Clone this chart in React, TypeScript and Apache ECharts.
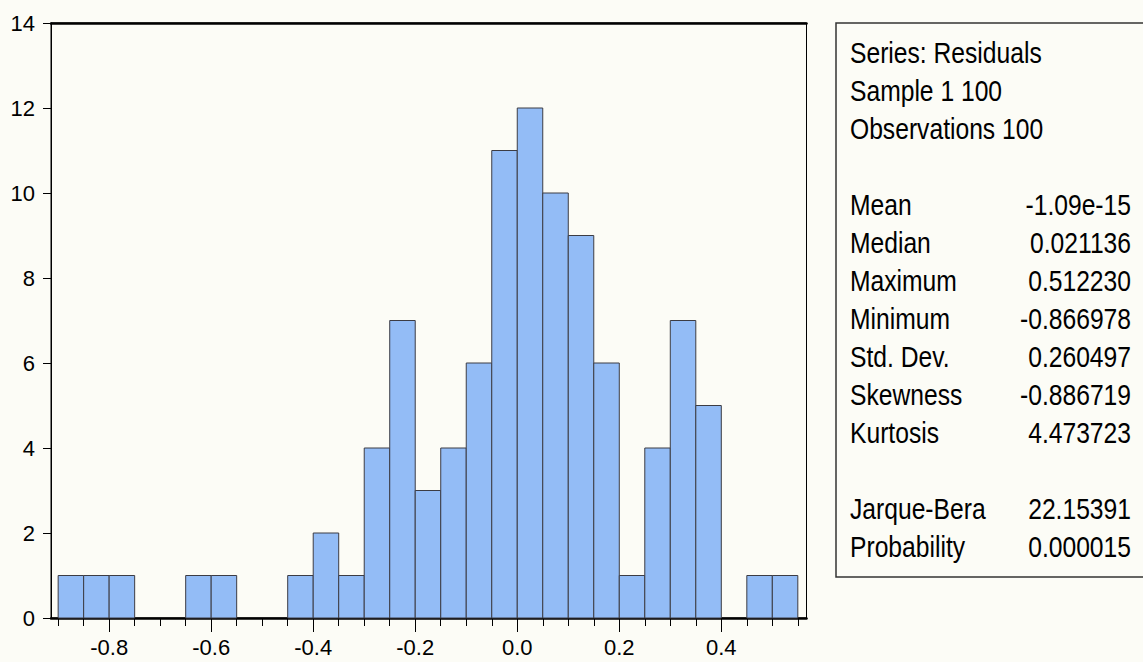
import React, { useEffect, useRef } from "react";
import * as echarts from "echarts";

const binStarts = [
  -0.9, -0.85, -0.8, -0.75, -0.7, -0.65, -0.6, -0.55, -0.5, -0.45, -0.4, -0.35, -0.3, -0.25, -0.2,
  -0.15, -0.1, -0.05, 0.0, 0.05, 0.1, 0.15, 0.2, 0.25, 0.3, 0.35, 0.4, 0.45, 0.5,
];
const binWidth = 0.05;
const counts = [1, 1, 1, 0, 0, 1, 1, 0, 0, 1, 2, 1, 4, 7, 3, 4, 6, 11, 12, 10, 9, 6, 1, 4, 7, 5, 0, 1, 1];

const minorTickValues = [
  -0.9, -0.85, -0.8, -0.75, -0.7, -0.65, -0.6, -0.55, -0.5, -0.45, -0.4, -0.35, -0.3, -0.25, -0.2,
  -0.15, -0.1, -0.05, 0.0, 0.05, 0.1, 0.15, 0.2, 0.25, 0.3, 0.35, 0.4, 0.45, 0.5, 0.55,
];
const majorTickValues = [-0.8, -0.6, -0.4, -0.2, 0.0, 0.2, 0.4];

const headerLines = ["Series: Residuals", "Sample 1 100", "Observations 100"];
const statNames = ["Mean", "Median", "Maximum", "Minimum", "Std. Dev.", "Skewness", "Kurtosis"];
const statValues = ["-1.09e-15", "0.021136", "0.512230", "-0.866978", "0.260497", "-0.886719", "4.473723"];
const testNames = ["Jarque-Bera", "Probability"];
const testValues = ["22.15391", "0.000015"];

const FONT = '"Liberation Sans", Arial, sans-serif';
const BG = "#fcfcf6";

export default function App() {
  const ref = useRef<HTMLDivElement>(null);

  useEffect(() => {
    if (!ref.current) return;
    const chart = echarts.init(ref.current, null, { renderer: "svg" });

    const barData = binStarts
      .map((s, i) => [s, s + binWidth, counts[i]])
      .filter((d) => d[2] > 0);

    const textEls: any[] = [];
    const lx = 850;
    const rx = 1131;
    const step = 38;
    const y0 = 53;
    const sx = 0.85;
    const mk = (text: string, x: number, y: number, align: string) => ({
      type: "text",
      x,
      y,
      scaleX: sx,
      style: { text, x: 0, y: 0, font: `29px ${FONT}`, fill: "#000", textAlign: align, textVerticalAlign: "middle" },
      z: 2,
    });
    headerLines.forEach((t, i) => textEls.push(mk(t, lx, y0 + i * step, "left")));
    statNames.forEach((t, i) => {
      const y = y0 + (4 + i) * step;
      textEls.push(mk(t, lx, y, "left"));
      textEls.push(mk(statValues[i], rx, y, "right"));
    });
    testNames.forEach((t, i) => {
      const y = y0 + (12 + i) * step;
      textEls.push(mk(t, lx, y, "left"));
      textEls.push(mk(testValues[i], rx, y, "right"));
    });

    const xMin = -0.914;
    const xMax = 0.567;

    chart.setOption({
      animation: false,
      backgroundColor: BG,
      grid: {
        left: 51,
        top: 23,
        right: 336.5,
        bottom: 44,
        show: true,
        borderColor: "#000",
        borderWidth: 1,
        backgroundColor: "transparent",
      },
      xAxis: [
        {
          type: "value",
          min: xMin,
          max: xMax,
          position: "bottom",
          axisLine: { show: true, onZero: false, lineStyle: { color: "#000", width: 2.5 } },
          axisTick: { show: true, inside: false, length: 8, customValues: minorTickValues, lineStyle: { color: "#000", width: 1 } },
          axisLabel: { show: false },
          splitLine: { show: false },
        },
        {
          type: "value",
          min: xMin,
          max: xMax,
          position: "bottom",
          axisLine: { show: false, onZero: false },
          axisTick: { show: true, inside: false, length: 14, customValues: majorTickValues, lineStyle: { color: "#000", width: 1 } },
          axisLabel: {
            show: true,
            customValues: majorTickValues,
            formatter: (v: number) => v.toFixed(1),
            fontFamily: FONT,
            fontSize: 22,
            color: "#000",
            margin: 18,
          },
          splitLine: { show: false },
        },
        {
          type: "value",
          min: xMin,
          max: xMax,
          position: "top",
          axisLine: { show: true, onZero: false, lineStyle: { color: "#000", width: 2.5 } },
          axisTick: { show: false },
          axisLabel: { show: false },
          splitLine: { show: false },
        },
      ],
      yAxis: {
        type: "value",
        min: 0,
        max: 14,
        interval: 2,
        axisLine: { show: true, onZero: false, lineStyle: { color: "#000", width: 1 } },
        axisTick: { show: true, inside: false, length: 8, lineStyle: { color: "#000" } },
        axisLabel: { fontFamily: FONT, fontSize: 22, color: "#000", margin: 16 },
        splitLine: { show: false },
      },
      series: [
        {
          type: "custom",
          xAxisIndex: 0,
          yAxisIndex: 0,
          data: barData,
          encode: { x: [0, 1], y: 2 },
          renderItem: (params: any, api: any) => {
            const p1 = api.coord([api.value(0), api.value(2)]);
            const p2 = api.coord([api.value(1), 0]);
            return {
              type: "rect",
              shape: { x: p1[0], y: p1[1], width: p2[0] - p1[0], height: p2[1] - p1[1] },
              style: { fill: "#93bcf6", stroke: "#3c3c44", lineWidth: 1 },
            };
          },
          z: 1,
        },
      ],
      graphic: [
        {
          type: "rect",
          shape: { x: 836, y: 23, width: 400, height: 554 },
          style: { fill: BG, stroke: "#333", lineWidth: 1.5 },
          z: 0,
        },
        ...textEls,
      ],
    });

    return () => chart.dispose();
  }, []);

  return (
    <div
      ref={ref}
      style={{ position: "fixed", left: 0, top: 0, width: 1143, height: 662, background: BG }}
    />
  );
}
